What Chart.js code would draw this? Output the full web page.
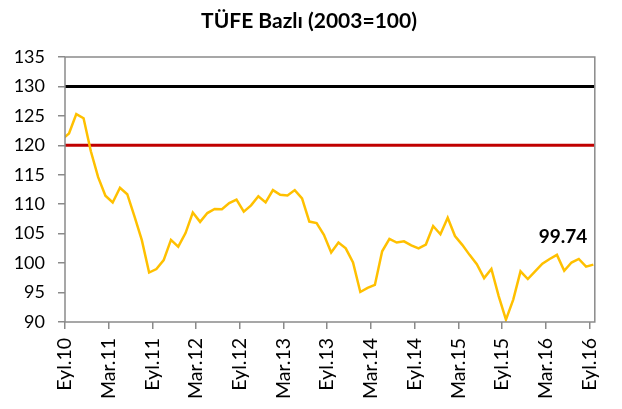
<!DOCTYPE html>
<html lang="tr">
<head>
<meta charset="UTF-8">
<title>TÜFE Bazlı (2003=100)</title>
<script src="https://cdn.jsdelivr.net/npm/chart.js@4.4.1/dist/chart.umd.min.js"></script>
<style>
  html, body { margin: 0; padding: 0; background: #fff; }
  #wrap { width: 622px; height: 409px; }
</style>
</head>
<body>
<div id="wrap"><canvas id="tufeChart" width="622" height="409"></canvas></div>
<script>
// series runs Ağu.10 .. Eyl.16, one value per month (the Ağu.10 point sits left of the axis)
const tufeValues = [
  121.0,
  122.0, 125.3, 124.6, 119.0, 114.6, 111.45, 110.3, 112.8, 111.7, 107.9, 103.9, 98.4,
  99.0, 100.5, 103.95, 102.8, 105.1, 108.6, 107.0, 108.5, 109.2, 109.15, 110.2, 110.8,
  108.75, 109.8, 111.35, 110.3, 112.4, 111.6, 111.5, 112.4, 111.0, 107.05, 106.8, 104.8,
  101.8, 103.5, 102.5, 100.1, 95.1, 95.8, 96.3, 102.0, 104.1, 103.5, 103.7, 103.0,
  102.5, 103.15, 106.3, 104.9, 107.7, 104.6, 103.1, 101.4, 99.8, 97.45, 99.0, 94.4,
  90.4, 93.8, 98.6, 97.3, 98.6, 99.9, 100.7, 101.4, 98.7, 100.1, 100.7, 99.4,
  99.74
];
const firstMonth = -1;          // Ağu.10, counted in months from Eyl.10
const tickMonths = [0, 6, 12, 18, 24, 30, 36, 42, 48, 54, 60, 66, 72];
const tickLabels = ['Eyl.10', 'Mar.11', 'Eyl.11', 'Mar.12', 'Eyl.12', 'Mar.13', 'Eyl.13',
                    'Mar.14', 'Eyl.14', 'Mar.15', 'Eyl.15', 'Mar.16', 'Eyl.16'];
const yTicks = [90, 95, 100, 105, 110, 115, 120, 125, 130, 135];
const upperLevel = 130;
const lowerLevel = 120;

const FONT = "Lato, 'Open Sans', sans-serif";
const AXIS_GREY = '#8a8a8a';
const midMonth = 0.55;          // Excel put the monthly points mid-month
const xMax = 72.75;

const tufePoints = tufeValues.map((v, i) => ({ x: firstMonth + i + midMonth, y: v }));

// border box + last value label + title
const extras = {
  id: 'extras',
  afterDatasetsDraw(chart) {
    const { ctx, chartArea: a } = chart;
    ctx.save();
    ctx.strokeStyle = AXIS_GREY;
    ctx.lineWidth = 1.5;
    ctx.strokeRect(a.left, a.top, a.right - a.left, a.bottom - a.top);

    const meta = chart.getDatasetMeta(0);
    const last = meta.data[meta.data.length - 1];
    ctx.fillStyle = '#000';
    ctx.font = 'bold 19px ' + FONT;
    ctx.textAlign = 'right';
    ctx.textBaseline = 'middle';
    ctx.fillText(tufeValues[tufeValues.length - 1].toFixed(2), last.x - 6, last.y - 28);

    ctx.font = 'bold 21px ' + FONT;
    ctx.textAlign = 'center';
    ctx.fillText('TÜFE Bazlı (2003=100)', 309, 21);
    ctx.restore();
  }
};

new Chart(document.getElementById('tufeChart'), {
  type: 'line',
  data: {
    datasets: [
      {
        data: tufePoints,
        borderColor: '#FFC000',
        borderWidth: 2.5,
        pointRadius: 0,
        tension: 0,
        clip: 0
      },
      {
        data: [{ x: 0, y: upperLevel }, { x: xMax, y: upperLevel }],
        borderColor: '#000000',
        borderWidth: 3,
        pointRadius: 0
      },
      {
        data: [{ x: 0, y: lowerLevel }, { x: xMax, y: lowerLevel }],
        borderColor: '#C00000',
        borderWidth: 3,
        pointRadius: 0
      }
    ]
  },
  options: {
    responsive: false,
    animation: false,
    devicePixelRatio: 1,
    layout: { padding: { top: 57, right: 25, left: 0, bottom: 0 } },
    plugins: { legend: { display: false }, tooltip: { enabled: false }, title: { display: false } },
    scales: {
      x: {
        type: 'linear',
        min: 0,
        max: xMax,
        afterBuildTicks: s => { s.ticks = tickMonths.map(v => ({ value: v })); },
        afterFit: s => { s.height = 87; },
        border: { display: false },
        grid: { drawOnChartArea: false, drawTicks: true, tickLength: 7, color: AXIS_GREY, lineWidth: 1.5 },
        ticks: {
          autoSkip: false,
          maxRotation: 90,
          minRotation: 90,
          padding: 9,
          color: '#000',
          font: { family: FONT, size: 19.5 },
          callback: (v, i) => tickLabels[i]
        }
      },
      y: {
        min: 90,
        max: 135,
        afterBuildTicks: s => { s.ticks = yTicks.map(v => ({ value: v })); },
        afterFit: s => { s.width = 65; },
        border: { display: false },
        grid: { drawOnChartArea: false, drawTicks: true, tickLength: 7, color: AXIS_GREY, lineWidth: 1.5 },
        ticks: {
          padding: 13,
          color: '#000',
          font: { family: FONT, size: 18 }
        }
      }
    }
  },
  plugins: [extras]
});
</script>
</body>
</html>
